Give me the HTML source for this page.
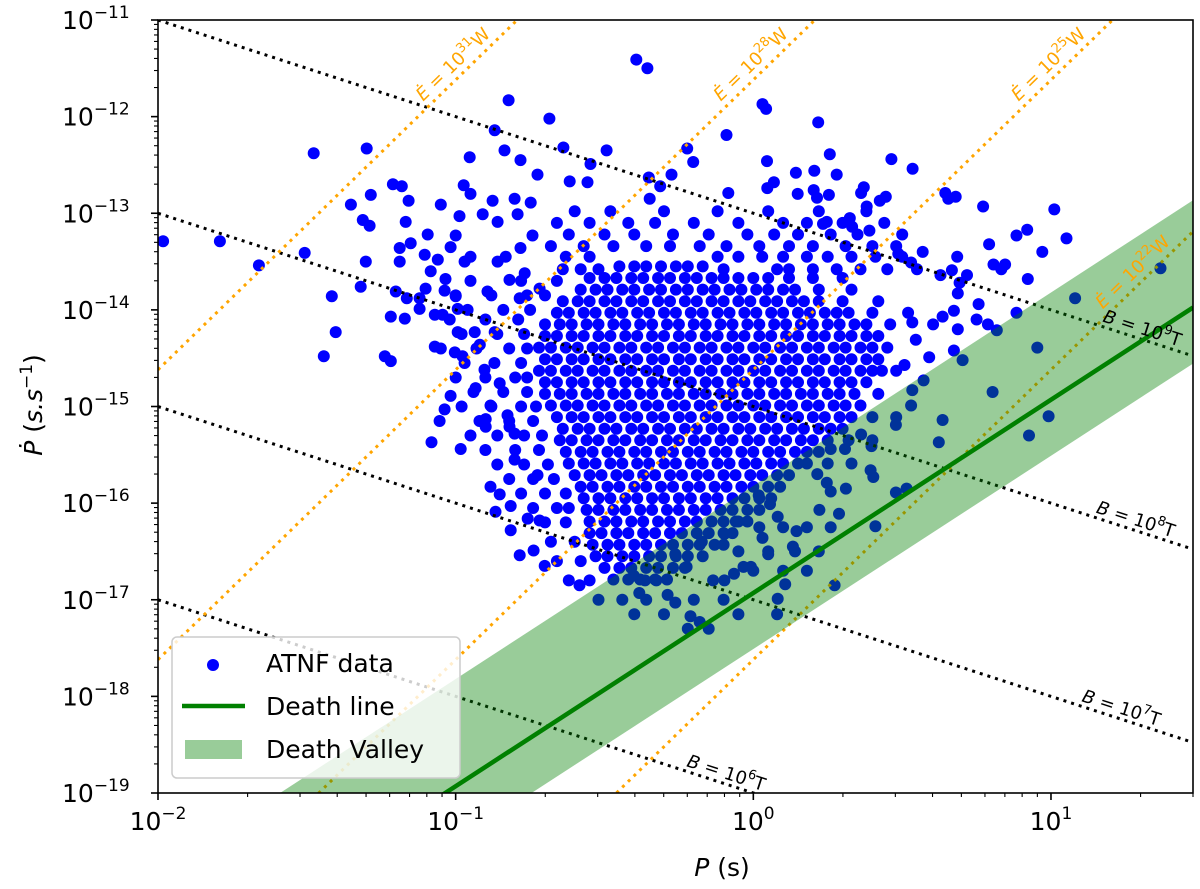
<!DOCTYPE html>
<html><head><meta charset="utf-8">
<style>
html,body{margin:0;padding:0;background:#fff;overflow:hidden;width:1200px;height:889px;}
svg{display:block;font-family:"DejaVu Sans","Liberation Sans",sans-serif;}
</style></head>
<body>
<svg id="chart" width="1200" height="889" viewBox="0 0 1200 889" xmlns="http://www.w3.org/2000/svg">
<defs><clipPath id="clip"><rect x="158" y="20" width="1035" height="773"/></clipPath></defs>
<g id="points" clip-path="url(#clip)"></g>
<g id="guides" clip-path="url(#clip)"></g>
<g id="valley" clip-path="url(#clip)"></g>
<g id="labels"></g>
<rect x="158" y="20" width="1035" height="773" fill="none" stroke="#000" stroke-width="1.6"/>
<g id="axes"></g>
<text x="722" y="876" font-size="25" text-anchor="middle"><tspan font-style="italic">P</tspan> (s)</text>
<text transform="translate(42,405) rotate(-90)" font-size="25" text-anchor="middle"><tspan font-style="italic">Ṗ</tspan> (<tspan font-style="italic">s.s</tspan><tspan dy="-10" font-size="17">−1</tspan><tspan dy="10">)</tspan></text>
<g>
<rect x="172" y="637" width="288" height="141" rx="5" fill="rgba(255,255,255,0.8)" stroke="#ccc" stroke-width="1.5"/>
<circle cx="213" cy="665" r="6" fill="#0000ff"/>
<text x="266" y="672" font-size="25">ATNF data</text>
<line x1="182" y1="706" x2="245" y2="706" stroke="#008000" stroke-width="4.5"/>
<text x="266" y="715" font-size="25">Death line</text>
<rect x="185" y="740" width="57" height="19" fill="#008000" fill-opacity="0.4"/>
<text x="266" y="758" font-size="25">Death Valley</text>
</g>
</svg>
<script>
// axis ranges (log10)
const xLogRange = [-2, Math.log10(30)];
const yLogRange = [-19, -11];
const xTickExps = [-2, -1, 0, 1];
const yTickExps = [-19, -18, -17, -16, -15, -14, -13, -12, -11];
// B-field lines: log10(Pdot) at P=1 s ; labels
const bLineConsts = [-13, -15, -17, -19];
const bLineLabels = ["9", "8", "7", "6"];
const bLabelPeriods = [20, 19, 17, 0.8];
// Edot lines: log10(Pdot) = c + 3 log10(P)
const eLineConsts = [-8.62, -11.62, -14.62, -17.62];
const eLineLabels = ["31", "28", "25", "22"];
const eLabelPdots = [-11.2, -11.2, -11.2, -13.35];
// death line: log Pdot = slope*logP + intercept ; valley offsets
const deathSlope = 2;
const deathIntercept = -16.93;
const valleyUpper = 1.11;
const valleyLower = -0.58;
// scattered pulsars [log10 P, log10 Pdot]
const outliers = [
[-0.393,-11.41],[-0.356,-11.50],[-0.822,-11.83],[-0.685,-12.02],[-0.869,-12.14],[-1.477,-12.38],[-1.299,-12.33],[-0.953,-12.42],
[-0.836,-12.35],[-0.782,-12.45],[-0.638,-12.32],[-0.493,-12.35],[-0.547,-12.49],[-0.725,-12.60],[-0.617,-12.67],[-0.557,-12.68],
[-1.211,-12.70],[-1.181,-12.72],[-1.285,-12.81],[-1.352,-12.91],[-1.158,-12.87],[-1.050,-12.91],[-0.973,-12.71],[-0.950,-12.80],
[-0.802,-12.85],[-0.748,-12.89],[-0.876,-12.87],[-1.312,-13.07],[-1.289,-13.13],[-1.168,-13.09],[-0.987,-13.03],[-0.909,-13.01],
[-0.792,-13.01],[-0.859,-13.09],[-1.792,-13.29],[-1.983,-13.29],[-1.661,-13.54],[-1.507,-13.41],[-1.302,-13.50],[-1.416,-13.86],[-1.319,-13.76],
[-1.403,-14.23],[-1.443,-14.48],[-1.238,-14.48],[-1.218,-14.53],[-1.188,-13.36],[-1.188,-13.50],[-1.151,-13.31],[-1.094,-13.22],
[-1.104,-13.43],[-1.060,-13.48],[-1.084,-13.60],[-1.201,-13.81],[-1.164,-13.88],[-1.121,-13.88],[-1.101,-13.78],[-1.218,-14.07],
[-1.171,-14.09],[-1.070,-14.05],[-1.044,-14.05],[-1.121,-13.99],[-1.070,-14.38],[-1.034,-13.68],[-1.037,-13.80],[-1.017,-13.35],
[-1.000,-13.23],[-0.970,-13.50],[-0.950,-13.45],[-1.000,-13.86],[-0.993,-13.99],[-0.993,-14.23],[-1.003,-14.44],[-0.977,-14.48],
[-0.936,-14.23],[-0.933,-14.81],[-0.903,-14.62],[-0.919,-14.36],[-1.017,-14.89],[-1.037,-15.03],[-1.054,-15.15],[-1.081,-15.37],
[-0.983,-15.44],[-0.899,-15.13],[-0.899,-15.21],[-0.883,-14.99],[-0.852,-14.76],[-0.826,-15.09],[-0.819,-15.21],[-0.802,-15.28],
[-0.802,-15.55],[-0.883,-15.83],[-0.852,-15.91],[-0.866,-16.09],[-0.815,-16.03],[-0.815,-16.28],[-0.758,-16.16],[-0.718,-16.18],
[-0.785,-16.54],[-0.738,-16.49],[-0.701,-16.65],[-0.584,-16.85],[-0.725,-15.71],[-0.869,-14.23],[-0.893,-13.81],[-0.859,-13.50],
[-0.832,-13.45],[-0.782,-13.36],[-0.742,-13.23],[-0.819,-13.69],[-0.768,-13.62],[-0.785,-13.88],[-0.718,-13.78],
[0.031,-11.87],[0.043,-11.92],[0.218,-12.06],[-0.090,-12.19],[-0.222,-12.33],[-0.202,-12.47],[0.257,-12.39],[0.464,-12.44],
[0.535,-12.54],[0.046,-12.46],[0.143,-12.58],[0.205,-12.56],[0.280,-12.60],[0.069,-12.68],[0.047,-12.74],[-0.084,-12.79],
[-0.275,-12.60],[-0.351,-12.63],[-0.313,-12.72],[-0.348,-12.85],[0.149,-12.80],[0.203,-12.76],[0.214,-12.84],[0.254,-12.81],
[0.362,-12.79],[0.371,-12.73],[0.425,-12.87],[0.445,-12.83],[0.381,-12.93],[0.645,-12.79],[0.680,-12.83],[0.655,-12.85],
[0.772,-12.93],[1.011,-12.96],[1.052,-13.26],[0.884,-13.23],[0.920,-13.17],[0.792,-13.32],[0.971,-13.40],[0.807,-13.53],
[0.846,-13.53],[0.833,-13.58],[0.922,-13.68],[1.081,-13.88],[1.368,-13.57],[0.884,-14.03],[0.569,-13.40],[0.685,-13.45],
[0.487,-13.42],[0.530,-13.51],[0.390,-13.18],[0.324,-13.05],[0.332,-13.14],[0.234,-13.11],[0.247,-13.09],[0.629,-13.64],
[0.667,-13.59],[0.718,-13.64],[0.693,-13.72],[0.687,-13.83],[0.757,-13.94],[0.750,-14.10],[0.788,-14.15],[0.818,-14.21],
[0.674,-14.01],[0.687,-14.20],[0.636,-14.07],[0.604,-14.15],[0.703,-14.52],[0.674,-14.42],[0.591,-14.49],[0.546,-14.31],
[0.534,-14.13],[0.954,-14.39],[0.572,-14.73],[0.534,-14.83],[0.530,-14.99],[0.432,-14.63],[0.508,-14.57],[0.804,-14.85],
[0.636,-15.14],[0.623,-15.37],[0.479,-15.19],[0.992,-15.10],[0.926,-15.30],[0.394,-15.66],[0.403,-15.73],[0.311,-15.85],
[0.260,-15.88],[0.479,-15.89],[0.515,-15.85],[0.222,-16.07],[0.288,-16.11],[0.410,-16.24],[0.273,-16.85],[0.362,-15.29],
[0.397,-15.41],[0.308,-15.44],[0.260,-15.44],[0.215,-15.70],[0.247,-15.79],[0.145,-16.29],[0.133,-16.45],[0.107,-16.84],
[0.082,-16.99],[-0.008,-16.66],[-0.033,-16.66],[-0.065,-16.73],[-0.097,-16.80],[-0.135,-16.80],[-0.211,-17.17],[-0.180,-17.23],
[-0.288,-16.95],[-0.262,-17.03],[-0.383,-16.93],[-0.402,-16.75],[-0.262,-16.53],[-0.224,-16.66],[0.018,-15.92],[0.056,-16.01],
[0.082,-16.14],[0.031,-16.36],[0.050,-16.53],[-0.059,-16.19],[-0.097,-16.32],[-0.173,-16.40],[-0.326,-16.80],[-0.364,-16.80]
];
// dense core: each row = [log10 Pdot, [log10 P ...]]
const coreRows = [
[-13.55,[-0.45,-0.40,-0.36,-0.31,-0.26,-0.22,-0.17]],
[-13.67,[-0.55,-0.50,-0.46,-0.41,-0.37,-0.32,-0.28,-0.23,-0.19,-0.14,-0.10,-0.05,0.00,0.05]],
[-13.79,[-0.58,-0.53,-0.49,-0.44,-0.40,-0.35,-0.31,-0.26,-0.22,-0.17,-0.13,-0.08,-0.04,0.01,0.05,0.10,0.14]],
[-13.91,[-0.64,-0.59,-0.55,-0.50,-0.46,-0.41,-0.37,-0.32,-0.28,-0.23,-0.19,-0.14,-0.10,-0.05,-0.01,0.04,0.08,0.13,0.17,0.22]],
[-14.03,[-0.66,-0.62,-0.57,-0.53,-0.48,-0.44,-0.39,-0.35,-0.30,-0.26,-0.21,-0.17,-0.12,-0.08,-0.03,0.01,0.06,0.10,0.15,0.19,0.24,0.28,0.32]],
[-14.15,[-0.70,-0.65,-0.61,-0.56,-0.52,-0.47,-0.43,-0.38,-0.34,-0.29,-0.25,-0.20,-0.16,-0.11,-0.07,-0.02,0.02,0.07,0.11,0.16,0.20,0.25,0.29,0.34,0.38]],
[-14.27,[-0.70,-0.66,-0.61,-0.57,-0.52,-0.48,-0.43,-0.39,-0.34,-0.30,-0.25,-0.21,-0.16,-0.12,-0.07,-0.03,0.02,0.06,0.11,0.15,0.20,0.24,0.29,0.33,0.38,0.42]],
[-14.39,[-0.72,-0.68,-0.63,-0.59,-0.54,-0.50,-0.45,-0.41,-0.36,-0.32,-0.27,-0.23,-0.18,-0.14,-0.09,-0.05,0.00,0.04,0.09,0.13,0.18,0.22,0.27,0.31,0.36,0.40,0.45]],
[-14.51,[-0.70,-0.66,-0.61,-0.57,-0.52,-0.48,-0.43,-0.39,-0.34,-0.30,-0.25,-0.21,-0.16,-0.12,-0.07,-0.03,0.02,0.06,0.11,0.15,0.20,0.24,0.29,0.33,0.38,0.42]],
[-14.63,[-0.72,-0.68,-0.63,-0.59,-0.54,-0.50,-0.45,-0.41,-0.36,-0.32,-0.27,-0.23,-0.18,-0.14,-0.09,-0.05,0.00,0.04,0.09,0.13,0.18,0.22,0.27,0.31,0.36,0.40]],
[-14.75,[-0.70,-0.66,-0.61,-0.57,-0.52,-0.48,-0.43,-0.39,-0.34,-0.30,-0.25,-0.21,-0.16,-0.12,-0.07,-0.03,0.02,0.06,0.11,0.15,0.20,0.24,0.29,0.33,0.38]],
[-14.87,[-0.70,-0.65,-0.61,-0.56,-0.52,-0.47,-0.43,-0.38,-0.34,-0.29,-0.25,-0.20,-0.16,-0.11,-0.07,-0.02,0.02,0.07,0.11,0.16,0.20,0.25,0.29,0.34]],
[-14.99,[-0.68,-0.63,-0.59,-0.54,-0.50,-0.45,-0.41,-0.36,-0.32,-0.27,-0.23,-0.18,-0.14,-0.09,-0.05,0.00,0.04,0.09,0.13,0.18,0.22,0.27,0.31,0.36]],
[-15.11,[-0.66,-0.61,-0.57,-0.52,-0.48,-0.43,-0.39,-0.34,-0.30,-0.25,-0.21,-0.16,-0.12,-0.07,-0.03,0.02,0.06,0.11,0.15,0.20,0.24,0.29,0.33]],
[-15.23,[-0.64,-0.59,-0.55,-0.50,-0.46,-0.41,-0.37,-0.32,-0.28,-0.23,-0.19,-0.14,-0.10,-0.05,-0.01,0.04,0.08,0.13,0.17,0.22,0.26,0.30]],
[-15.35,[-0.65,-0.61,-0.56,-0.52,-0.47,-0.43,-0.38,-0.34,-0.29,-0.25,-0.20,-0.16,-0.11,-0.07,-0.02,0.02,0.07,0.11,0.16,0.20,0.25]],
[-15.47,[-0.63,-0.58,-0.54,-0.49,-0.45,-0.40,-0.36,-0.31,-0.27,-0.22,-0.18,-0.13,-0.09,-0.04,0.00,0.05,0.09,0.14,0.18,0.22]],
[-15.59,[-0.62,-0.57,-0.53,-0.48,-0.44,-0.39,-0.35,-0.30,-0.26,-0.21,-0.17,-0.12,-0.08,-0.03,0.01,0.06,0.10,0.15,0.18]],
[-15.71,[-0.60,-0.55,-0.51,-0.46,-0.42,-0.37,-0.33,-0.28,-0.24,-0.19,-0.15,-0.10,-0.06,-0.01,0.03,0.08,0.12]],
[-15.83,[-0.58,-0.54,-0.49,-0.45,-0.40,-0.36,-0.31,-0.27,-0.22,-0.18,-0.13,-0.09,-0.04,0.00,0.05,0.09]],
[-15.95,[-0.57,-0.52,-0.48,-0.43,-0.39,-0.34,-0.30,-0.25,-0.21,-0.16,-0.12,-0.07,-0.03,0.02,0.06]],
[-16.07,[-0.56,-0.52,-0.47,-0.43,-0.38,-0.34,-0.29,-0.25,-0.20,-0.16,-0.11,-0.07,-0.02,0.02]],
[-16.19,[-0.55,-0.50,-0.46,-0.41,-0.37,-0.32,-0.28,-0.23,-0.19,-0.14,-0.10,-0.05,-0.02]],
[-16.31,[-0.55,-0.51,-0.46,-0.42,-0.37,-0.33,-0.28,-0.24,-0.19,-0.15,-0.10,-0.07]],
[-16.43,[-0.54,-0.49,-0.45,-0.40,-0.36,-0.31,-0.27,-0.22,-0.18,-0.13,-0.10]],
[-16.55,[-0.53,-0.49,-0.44,-0.40,-0.35,-0.31,-0.26,-0.22,-0.17]],
[-16.67,[-0.50,-0.45,-0.41,-0.36,-0.32,-0.27,-0.23]],
[-16.79,[-0.47,-0.42,-0.38,-0.33,-0.29]]
];
// sparser halo around the core: [log10 Pdot, [log10 P ...]]
const haloRows = [
[-12.98,[-0.60,-0.48,-0.30,-0.12,0.05,0.22,0.38]],
[-13.10,[-0.66,-0.55,-0.42,-0.33,-0.20,-0.05,0.10,0.18,0.30,0.44]],
[-13.22,[-0.62,-0.50,-0.40,-0.27,-0.15,-0.02,0.07,0.15,0.26,0.35,0.50]],
[-13.34,[-0.68,-0.57,-0.47,-0.36,-0.28,-0.18,-0.09,0.02,0.12,0.20,0.31,0.40,0.48]],
[-13.45,[-0.63,-0.55,-0.12,-0.05,0.03,0.10,0.18,0.25,0.33,0.41,0.50]],
[-13.58,[-0.64,-0.58,-0.52,-0.10,0.08,0.12,0.20,0.28,0.36,0.45,0.55]],
[-13.67,[0.12,0.20,0.30]],
[-13.70,[-0.95,-0.78,-0.66]],
[-13.79,[0.22,0.33]],
[-13.85,[-1.00,-0.88,-0.76,-0.70]],
[-13.91,[0.30,0.42]],
[-14.00,[-0.96,-0.84,-0.75]],
[-14.03,[0.40,0.52]],
[-14.10,[-1.02,-0.90,-0.79]],
[-14.15,[0.46]],
[-14.25,[-0.98,-0.86,-0.77]],
[-14.40,[-1.05,-0.93,-0.82,-0.76]],
[-14.55,[-0.97,-0.87,-0.78]],
[-14.63,[0.48]],
[-14.70,[-1.00,-0.90,-0.80,-0.76]],
[-14.85,[-0.94,-0.84,-0.76]],
[-14.87,[0.42]],
[-15.00,[-0.98,-0.88,-0.78,-0.73]],
[-15.11,[0.40,0.48]],
[-15.15,[-0.92,-0.82,-0.74]],
[-15.30,[-0.95,-0.86,-0.77,-0.71]],
[-15.35,[0.32,0.40]],
[-15.45,[-0.90,-0.80,-0.72]],
[-15.59,[0.25,0.33]],
[-15.60,[-0.86,-0.77,-0.69]],
[-15.75,[-0.82,-0.74,-0.67]],
[-15.90,[-0.78,-0.70,-0.63]],
[-16.05,[-0.74,-0.66,-0.62]],
[-16.20,[-0.70,-0.63]],
[-16.25,[0.02,0.10,0.18,0.26]],
[-16.40,[-0.68,-0.60]],
[-16.50,[-0.05,0.05,0.14,0.22]],
[-16.60,[-0.66,-0.58]],
[-16.70,[0.00,0.10,0.18]],
[-16.80,[-0.62,-0.55]],
[-17.00,[-0.52,-0.44,-0.36,-0.20,-0.10]],
[-17.15,[-0.40,-0.30,-0.05,0.08]],
[-17.30,[-0.22,-0.15]]
];

const NS = "http://www.w3.org/2000/svg";
const X0 = 158, X1 = 1193, Y0 = 20, Y1 = 793;
function xs(lp){ return X0 + (lp - xLogRange[0]) / (xLogRange[1] - xLogRange[0]) * (X1 - X0); }
function ys(lpd){ return Y0 + (yLogRange[1] - lpd) / (yLogRange[1] - yLogRange[0]) * (Y1 - Y0); }
function mk(tag, attrs, parent){
  const e = document.createElementNS(NS, tag);
  for (const k in attrs) e.setAttribute(k, attrs[k]);
  parent.appendChild(e);
  return e;
}

// points
const gP = document.getElementById("points");
function addPoint(lp, lpd){
  const c = mk("circle", {cx: xs(lp).toFixed(1), cy: ys(lpd).toFixed(1), r: 6, fill: "#0000ff"}, gP);
  
  
}
coreRows.forEach(row => row[1].forEach(lp => addPoint(lp, row[0])));
haloRows.forEach(row => row[1].forEach(lp => addPoint(lp, row[0])));
outliers.forEach(p => addPoint(p[0], p[1]));

// guide lines
const gG = document.getElementById("guides");
const lpA = xLogRange[0], lpB = xLogRange[1];
bLineConsts.forEach((k, i) => {
  const l = mk("line", {x1: xs(lpA), y1: ys(k - lpA), x2: xs(lpB), y2: ys(k - lpB), stroke: "#000", "stroke-width": 3, "stroke-dasharray": "3 5"}, gG);
  
  
});
eLineConsts.forEach((c, i) => {
  const l = mk("line", {x1: xs(lpA), y1: ys(c + 3 * lpA), x2: xs(lpB), y2: ys(c + 3 * lpB), stroke: "#ffa500", "stroke-width": 3, "stroke-dasharray": "3 5"}, gG);
  
  
});

// death valley + line
const gV = document.getElementById("valley");
const d0 = deathSlope * lpA + deathIntercept, d1 = deathSlope * lpB + deathIntercept;
const band = mk("polygon", {points: [
  [xs(lpA), ys(d0 + valleyUpper)], [xs(lpB), ys(d1 + valleyUpper)],
  [xs(lpB), ys(d1 + valleyLower)], [xs(lpA), ys(d0 + valleyLower)]].map(p => p.join(",")).join(" "),
  fill: "#008000", "fill-opacity": 0.4}, gV);


const dl = mk("line", {x1: xs(lpA), y1: ys(d0), x2: xs(lpB), y2: ys(d1), stroke: "#008000", "stroke-width": 4.5}, gV);



// labels
const gL = document.getElementById("labels");
const bAng = Math.atan2(ys(-1) - ys(0), xs(1) - xs(0)) * 180 / Math.PI;
bLineConsts.forEach((k, i) => {
  const lp = Math.log10(bLabelPeriods[i]);
  const x = xs(lp), y = ys(k - lp) - 5;
  const t = mk("text", {x: x, y: y, "font-size": 18, "text-anchor": "middle", transform: `rotate(${bAng} ${x} ${y})`}, gL);
  
  
  t.innerHTML = `<tspan font-style="italic">B</tspan> = 10<tspan dy="-8" font-size="13">${bLineLabels[i]}</tspan><tspan dy="8">T</tspan>`;
});
const eAng = Math.atan2(ys(3) - ys(0), xs(1) - xs(0)) * 180 / Math.PI;
eLineConsts.forEach((c, i) => {
  const lpd = eLabelPdots[i];
  const lp = (lpd - c) / 3;
  const x = xs(lp) - 6, y = ys(lpd) - 4;
  const t = mk("text", {x: x, y: y, "font-size": 18, fill: "#ffa500", "text-anchor": "end", transform: `rotate(${eAng} ${x} ${y})`}, gL);
  
  
  t.innerHTML = `<tspan font-style="italic">Ė</tspan> = 10<tspan dy="-8" font-size="13">${eLineLabels[i]}</tspan><tspan dy="8">W</tspan>`;
});

// axes ticks
const gA = document.getElementById("axes");
xTickExps.forEach(e => {
  const x = xs(e);
  const tk = mk("line", {x1: x, y1: Y1, x2: x, y2: Y1 + 7, stroke: "#000", "stroke-width": 1.6}, gA);
  
  
  const t = mk("text", {x: x, y: 830, "font-size": 25, "text-anchor": "middle"}, gA);
  
  
  t.innerHTML = `10<tspan dy="-11" font-size="17">${e < 0 ? "−" + (-e) : e}</tspan>`;
  for (let m = 2; m <= 9; m++) {
    const lp = e + Math.log10(m);
    if (lp > xLogRange[1]) break;
    const mt = mk("line", {x1: xs(lp), y1: Y1, x2: xs(lp), y2: Y1 + 4, stroke: "#000", "stroke-width": 1.1}, gA);
    
    
  }
});
yTickExps.forEach(e => {
  const y = ys(e);
  const tk = mk("line", {x1: X0 - 7, y1: y, x2: X0, y2: y, stroke: "#000", "stroke-width": 1.6}, gA);
  
  
  const t = mk("text", {x: 62, y: y + 9, "font-size": 25}, gA);
  
  
  t.innerHTML = `10<tspan dy="-11" font-size="17">−${-e}</tspan>`;
  if (e < yLogRange[1]) {
    for (let m = 2; m <= 9; m++) {
      const mt = mk("line", {x1: X0 - 4, y1: ys(e + Math.log10(m)), x2: X0, y2: ys(e + Math.log10(m)), stroke: "#000", "stroke-width": 1.1}, gA);
      
      
    }
  }
});
</script>
</body></html>
